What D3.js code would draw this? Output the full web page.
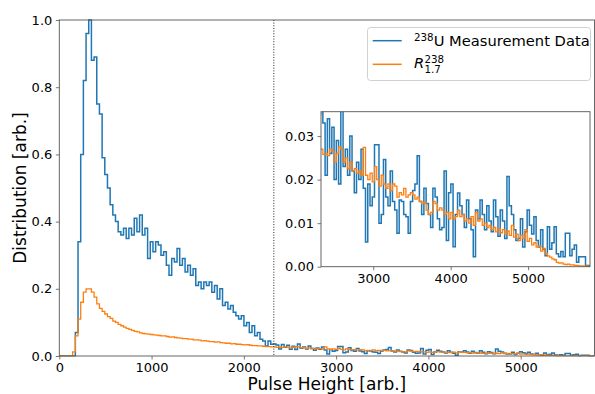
<!DOCTYPE html>
<html><head><meta charset="utf-8">
<script src="https://cdn.jsdelivr.net/npm/d3@7"></script>
<style>
html,body{margin:0;padding:0;background:#fff;}
svg{display:block;font-family:"DejaVu Sans",sans-serif;}
</style></head>
<body>
<script>
// ---- data ----
const binStart = 0;
const binWidth = 29;
const blueValues = [0,0,0,0,0,0, 0.07,0.34,0.60,0.82,
0.96,1.00,0.88,0.89,0.75,0.72,0.59,0.54,0.50,0.45,
0.42,0.40,0.37,0.36,0.38,0.35,0.38,0.36,0.41,0.37,
0.42,0.36,0.38,0.29,0.34,0.31,0.34,0.33,0.30,0.31,
0.27,0.24,0.29,0.28,0.32,0.27,0.29,0.25,0.27,0.24,
0.26,0.21,0.22,0.20,0.22,0.21,0.22,0.19,0.21,0.17,
0.20,0.15,0.16,0.14,0.15,0.13,0.12,0.11,0.12,0.09,
0.10,0.07,0.09,0.06,0.07,0.05,0.045,0.03,0.045,0.035,
0.036,0.033,0.021,0.034,0.026,0.032,0.020,0.029,0.019,0.036,
0.023,0.027,0.021,0.030,0.022,0.017,0.024,0.020,0.027,0.018,
0.0057,0.019,0.014,0.016,0.028,0.028,0.010,0.012,0.0246,0.016,
0.014,0.022,0.015,0.013,0.0077,0.0153,0.015,0.012,0.0115,0.0077,
0.015,0.0175,0.019,0.0255,0.015,0.012,0.018,0.0145,0.012,0.009,
0.018,0.016,0.011,0.0085,0.009,0.022,0.006,0.017,0.019,0.0046,
0.012,0.0169,0.014,0.012,0.009,0.0153,0.011,0.0085,0.0023,0.013,
0.011,0.0153,0.012,0.0085,0.014,0.0105,0.008,0.0153,0.0115,0.007,
0.013,0.0105,0.0065,0.0207,0.014,0.012,0.0085,0.006,0.0065,0.011,
0.0045,0.008,0.013,0.0095,0.0075,0.0115,0.006,0.0045,0.0085,0.004,
0.0025,0.0092,0.004,0.0055,0.0092,0.003,0.0023,0.0035,0.0023,0.0077,
0.0077,0.0025,0.004,0.005,0.001,0.0023,0.0023,0.0023,0.0003,0.0003];
const orangeValues = [0,0,0,0,0,0.012,0.06,0.11,0.16,0.19,
0.20,0.20,0.19,0.175,0.155,0.142,0.133,0.125,0.117,0.112,
0.104,0.100,0.094,0.090,0.086,0.082,0.079,0.076,0.073,0.072,
0.069,0.067,0.066,0.065,0.064,0.063,0.062,0.061,0.060,0.060,
0.058,0.056,0.057,0.055,0.054,0.053,0.052,0.052,0.050,0.050,
0.048,0.048,0.047,0.045,0.046,0.044,0.043,0.043,0.041,0.042,
0.040,0.039,0.038,0.038,0.036,0.037,0.035,0.035,0.034,0.033,
0.034,0.032,0.031,0.031,0.030,0.030,0.029,0.028,0.028,0.027,
0.027,0.0258,0.026,0.0255,0.027,0.0265,0.024,0.026,0.0275,0.027,
0.024,0.025,0.0225,0.024,0.022,0.0225,0.0215,0.022,0.021,0.0274,
0.021,0.020,0.0215,0.0195,0.023,0.020,0.0185,0.021,0.019,0.018,
0.019,0.0175,0.019,0.0185,0.016,0.017,0.0165,0.018,0.016,0.0165,
0.017,0.0165,0.0155,0.016,0.015,0.0145,0.0148,0.013,0.012,0.0125,
0.015,0.0145,0.013,0.0135,0.013,0.012,0.0125,0.011,0.0125,0.011,
0.0115,0.013,0.0115,0.012,0.0105,0.011,0.010,0.0115,0.0095,0.0125,
0.0105,0.011,0.0095,0.010,0.009,0.0095,0.0085,0.009,0.008,0.0088,
0.0078,0.0085,0.0075,0.0082,0.0072,0.0095,0.0068,0.0075,0.006,0.0072,
0.0065,0.0085,0.0058,0.0065,0.005,0.0055,0.0045,0.0048,0.0036,0.0042,
0.003,0.0025,0.0022,0.0018,0.0016,0.001,0.0008,0.0009,0.0006,0.0005,
0.0006,0.0004,0.0004,0.0003,0.0003,0.0002,0.0002,0.0002,0.0001,0.0001];
const cutoff = 2325;
const mainXDomain = [0, 5800];
const mainYDomain = [0, 1];
const insetXDomain = [2325, 5800];
const insetYDomain = [0, 0.0356];
const mainXTicks = [0, 1000, 2000, 3000, 4000, 5000];
const mainYTicks = [0, 0.2, 0.4, 0.6, 0.8, 1.0];
const insetXTicks = [3000, 4000, 5000];
const insetYTicks = [0, 0.01, 0.02, 0.03];
const seriesNames = ["Measurement Data", "R"];

// ---- drawing ----
const W = 595, H = 394;
const svg = d3.select("body").append("svg").attr("width", W).attr("height", H);
const blue = "#1f77b4", orange = "#ff7f0e";
const axisColor = "#555";

function pts(vals) {
  const p = vals.map((v, i) => [binStart + i * binWidth, v]);
  p.push([binStart + vals.length * binWidth, vals[vals.length - 1]]);
  return p;
}

function drawAxes(g, x, y, xt, yt, yfmt, fs) {
  const [x0, x1] = x.range(), [y0, y1] = y.range();
  const ax = g.append("g").attr("transform", `translate(0,${y0})`)
    .call(d3.axisBottom(x).tickValues(xt).tickSize(3.5).tickPadding(3.5).tickFormat(d3.format("d")));
  const ay = g.append("g").attr("transform", `translate(${x0},0)`)
    .call(d3.axisLeft(y).tickValues(yt).tickSize(3.5).tickPadding(3.5).tickFormat(d3.format(yfmt)));
  [ax, ay].forEach(a => {
    a.select(".domain").remove();
    a.selectAll("line").attr("stroke", axisColor).attr("stroke-width", 0.8);
    a.selectAll("text").attr("fill", "#000").style("font-size", fs + "px").style("font-family", "DejaVu Sans");
  });
  g.append("rect").attr("x", x0).attr("y", y1).attr("width", x1 - x0).attr("height", y0 - y1)
    .attr("fill", "none").attr("stroke", axisColor).attr("stroke-width", 0.9);
}

// main axes
const x = d3.scaleLinear(mainXDomain, [59.3, 594.5]);
const y = d3.scaleLinear(mainYDomain, [356, 20]);
svg.append("clipPath").attr("id", "cm").append("rect")
  .attr("x", 59.3).attr("y", 19).attr("width", 535.2).attr("height", 337.5);
const main = svg.append("g");
const lineM = d3.line().x(d => x(d[0])).y(d => y(d[1])).curve(d3.curveStepAfter);
const gm = main.append("g").attr("clip-path", "url(#cm)");
gm.append("path").attr("d", lineM(pts(blueValues))).attr("fill", "none").attr("stroke", blue).attr("stroke-width", 1.5);
gm.append("path").attr("d", lineM(pts(orangeValues))).attr("fill", "none").attr("stroke", orange).attr("stroke-width", 1.3);
main.append("line").attr("x1", x(cutoff)).attr("x2", x(cutoff)).attr("y1", y(1)).attr("y2", y(0))
  .attr("stroke", "#222").attr("stroke-width", 1).attr("stroke-dasharray", "1,1.65");
drawAxes(main, x, y, mainXTicks, mainYTicks, ".1f", 13);

svg.append("text").attr("x", (59.3 + 594.5) / 2).attr("y", 390).attr("text-anchor", "middle")
  .style("font-size", "17px").text("Pulse Height [arb.]");
svg.append("text").attr("transform", `translate(26,188) rotate(-90)`).attr("text-anchor", "middle")
  .style("font-size", "17px").text("Distribution [arb.]");

// inset
const xi = d3.scaleLinear(insetXDomain, [321, 590]);
const yi = d3.scaleLinear(insetYDomain, [266.7, 111.7]);
const ins = svg.append("g");
ins.append("rect").attr("x", 321).attr("y", 111.7).attr("width", 269).attr("height", 155).attr("fill", "#fff");
svg.append("clipPath").attr("id", "ci").append("rect")
  .attr("x", 321).attr("y", 111.7).attr("width", 269).attr("height", 155);
const lineI = d3.line().x(d => xi(d[0])).y(d => yi(d[1])).curve(d3.curveStepAfter);
const gi = ins.append("g").attr("clip-path", "url(#ci)");
gi.append("path").attr("d", lineI(pts(blueValues))).attr("fill", "none").attr("stroke", blue).attr("stroke-width", 1.5);
gi.append("path").attr("d", lineI(pts(orangeValues))).attr("fill", "none").attr("stroke", orange).attr("stroke-width", 1.3);
drawAxes(ins, xi, yi, insetXTicks, insetYTicks, ".2f", 13);

// legend
const lg = svg.append("g");
lg.append("rect").attr("x", 367.5).attr("y", 27.5).attr("width", 223).attr("height", 53).attr("rx", 3)
  .attr("fill", "#fff").attr("fill-opacity", 0.8).attr("stroke", "#d0d0d0").attr("stroke-width", 1);
lg.append("line").attr("x1", 372.7).attr("x2", 401.7).attr("y1", 40.7).attr("y2", 40.7).attr("stroke", blue).attr("stroke-width", 1.5);
lg.append("line").attr("x1", 372.7).attr("x2", 401.7).attr("y1", 64.3).attr("y2", 64.3).attr("stroke", orange).attr("stroke-width", 1.5);
const t1 = lg.append("text").attr("x", 414).attr("y", 46).style("font-size", "14.7px");
t1.append("tspan").style("font-size", "10.3px").attr("dy", -5.5).text("238");
t1.append("tspan").attr("dy", 5.5).text("U " + seriesNames[0]);
lg.append("text").attr("x", 414).attr("y", 67.7).style("font-size", "14.7px").style("font-style", "italic").text(seriesNames[1]);
lg.append("text").attr("x", 424.5).attr("y", 62.5).style("font-size", "10.3px").text("238");
lg.append("text").attr("x", 424.5).attr("y", 73.3).style("font-size", "10.3px").text("1.7");
</script>
</body></html>
